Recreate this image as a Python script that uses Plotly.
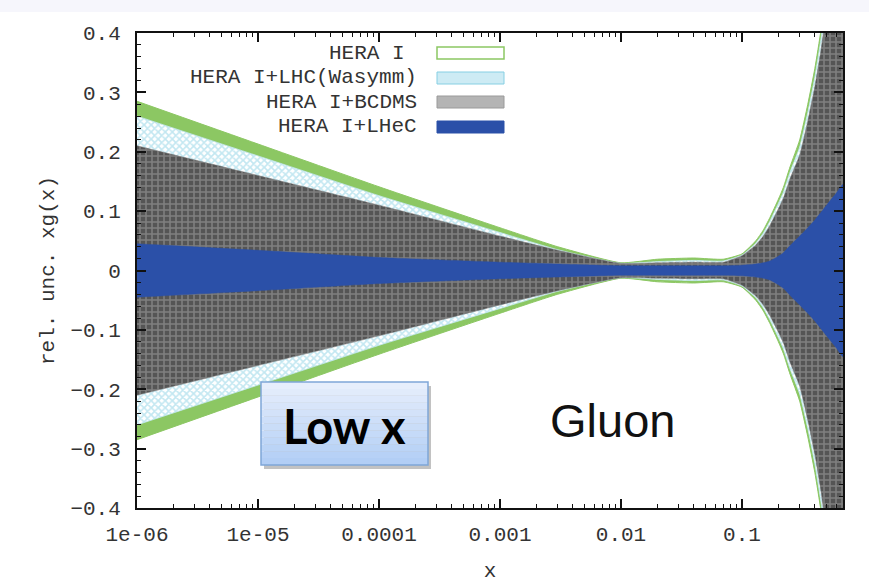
import plotly.graph_objects as go

# ---------------- data ----------------
x_pts = [1e-6, 1e-5, 1e-4, 1e-3, 3e-3, 0.01, 0.02, 0.04, 0.07, 0.1, 0.13,
         0.15, 0.17, 0.2, 0.22, 0.25, 0.3, 0.35, 0.4, 0.45, 0.5, 0.6, 0.684]

# half widths of the relative uncertainty bands (symmetric around 0)
hera1 = [0.285, 0.213, 0.141, 0.072, 0.040, 0.013, 0.019, 0.021, 0.019, 0.028, 0.050,
         0.068, 0.089, 0.120, 0.140, 0.175, 0.220, 0.280, 0.340, 0.405, 0.480, 0.600, 0.700]
hera1_lhc = [0.260, 0.193, 0.126, 0.064, 0.035, 0.012, 0.015, 0.017, 0.016, 0.026, 0.046,
             0.063, 0.083, 0.113, 0.132, 0.166, 0.208, 0.266, 0.325, 0.390, 0.460, 0.580, 0.680]
hera1_bcdms = [0.210, 0.160, 0.110, 0.058, 0.034, 0.012, 0.013, 0.014, 0.014, 0.025, 0.043,
               0.058, 0.076, 0.104, 0.122, 0.155, 0.195, 0.252, 0.310, 0.372, 0.440, 0.560, 0.660]
hera1_lhec = [0.045, 0.034, 0.022, 0.014, 0.011, 0.008, 0.008, 0.008, 0.008, 0.009, 0.011,
              0.013, 0.016, 0.024, 0.030, 0.042, 0.058, 0.072, 0.085, 0.098, 0.110, 0.130, 0.145]

series_names = ["HERA I", "HERA I+LHC(Wasymm)", "HERA I+BCDMS", "HERA I+LHeC"]

x_tickvals = [1e-6, 1e-5, 1e-4, 1e-3, 1e-2, 1e-1]
x_ticktext = ["1e-06", "1e-05", "0.0001", "0.001", "0.01", "0.1"]
x_minor = [m * 10.0 ** e for e in range(-6, 0) for m in range(2, 10)]
y_tickvals = [0.4, 0.3, 0.2, 0.1, 0, -0.1, -0.2, -0.3, -0.4]
y_ticktext = ["0.4", "0.3", "0.2", "0.1", "0", "\u22120.1", "\u22120.2", "\u22120.3", "\u22120.4"]

# ---------------- styles ----------------
GREEN = "#8cc763"
LBLUE = "#86cfe3"
BLUE = "#2b50a8"
MONO = "Liberation Mono, Courier New, monospace"
TXT = "#333333"


def band(half):
    xs = list(x_pts) + list(reversed(x_pts))
    ys = list(half) + [-v for v in reversed(half)]
    return xs, ys


fig = go.Figure()

xs, ys = band(hera1)
fig.add_trace(go.Scatter(x=xs, y=ys, fill="toself", mode="lines",
                         line=dict(color=GREEN, width=1, shape="spline", smoothing=0.5),
                         fillcolor=GREEN, name=series_names[0], showlegend=False))
xs, ys = band(hera1_lhc)
fig.add_trace(go.Scatter(x=xs, y=ys, fill="toself", mode="lines",
                         line=dict(color="#c4e9f3", width=0.8, shape="spline", smoothing=0.5),
                         fillpattern=dict(shape="x", fgcolor=LBLUE, bgcolor="white",
                                          size=5, solidity=0.55),
                         name=series_names[1], showlegend=False))
xs, ys = band(hera1_bcdms)
fig.add_trace(go.Scatter(x=xs, y=ys, fill="toself", mode="lines",
                         line=dict(color="#777777", width=0.5, shape="spline", smoothing=0.5),
                         fillpattern=dict(shape="+", fgcolor="#a9a9a9", bgcolor="#555555",
                                          size=6, solidity=0.45),
                         name=series_names[2], showlegend=False))
xs, ys = band(hera1_lhec)
fig.add_trace(go.Scatter(x=xs, y=ys, fill="toself", mode="lines",
                         line=dict(color=BLUE, width=0.5, shape="spline", smoothing=0.5),
                         fillcolor=BLUE, name=series_names[3], showlegend=False))

# ---------------- layout ----------------
W, H = 869, 588
L, R, T, B = 137, 26, 33, 80
PW, PH = W - L - R, H - T - B


def px(xp):
    return (xp - L) / PW


def py(yp):
    return (H - B - yp) / PH


shapes = []
annotations = []

# light strip at the very top of the page
shapes.append(dict(type="rect", xref="paper", yref="paper", x0=-L / PW, x1=(W - L) / PW,
                   y0=py(12), y1=py(0), fillcolor="#f6f6fc", line=dict(width=0), layer="below"))

# manual legend (text right-aligned, swatch on the right)
leg_rows = [53, 78, 102, 127]
leg_text_right = [407, 419, 419, 419]
sw_x0, sw_x1 = 437, 504
sw_styles = [
    dict(fillcolor="white", line=dict(color=GREEN, width=1.5)),
    dict(fillcolor="#cdebf4", line=dict(color=LBLUE, width=1)),
    dict(fillcolor="#b4b4b4", line=dict(color="#9a9a9a", width=1)),
    dict(fillcolor=BLUE, line=dict(color=BLUE, width=1)),
]
for name, yr, xr, st in zip(series_names, leg_rows, leg_text_right, sw_styles):
    annotations.append(dict(text=name, xref="paper", yref="paper", x=px(xr), y=py(yr),
                            xanchor="right", yanchor="middle", showarrow=False,
                            font=dict(family=MONO, size=21, color=TXT)))
    shapes.append(dict(type="rect", xref="paper", yref="paper",
                       x0=px(sw_x0), x1=px(sw_x1), y0=py(yr + 6), y1=py(yr - 6), **st))

# "Low x" box with shadow and vertical gradient
bx0, bx1, by0, by1 = 261, 428, 382, 465
shapes.append(dict(type="rect", xref="paper", yref="paper", x0=px(bx0 + 3), x1=px(bx1 + 3),
                   y0=py(by1 + 4), y1=py(by0 + 4), fillcolor="rgba(120,120,120,0.45)",
                   line=dict(width=0)))
n_strips = 12
top_rgb = (230, 238, 252)
bot_rgb = (178, 206, 245)
for i in range(n_strips):
    f = i / (n_strips - 1)
    c = tuple(int(round(top_rgb[k] + (bot_rgb[k] - top_rgb[k]) * f)) for k in range(3))
    ya = by0 + (by1 - by0) * i / n_strips
    yb = by0 + (by1 - by0) * (i + 1) / n_strips
    shapes.append(dict(type="rect", xref="paper", yref="paper", x0=px(bx0), x1=px(bx1),
                       y0=py(yb), y1=py(ya), fillcolor="rgb(%d,%d,%d)" % c,
                       line=dict(width=0)))
shapes.append(dict(type="rect", xref="paper", yref="paper", x0=px(bx0), x1=px(bx1),
                   y0=py(by1), y1=py(by0), fillcolor="rgba(0,0,0,0)",
                   line=dict(color="#7fa6d8", width=1.5)))
annotations.append(dict(text="<b>Low x</b>", xref="paper", yref="paper",
                        x=px(344), y=py(426), xanchor="center", yanchor="middle",
                        showarrow=False, font=dict(family="Lato, Open Sans, sans-serif",
                                                   size=47, color="#000000")))
annotations.append(dict(text="Gluon", xref="paper", yref="paper",
                        x=px(612), y=py(420), xanchor="center", yanchor="middle",
                        showarrow=False, font=dict(family="Liberation Sans, Arial, sans-serif",
                                                   size=47, color="#111111")))

fig.update_layout(
    width=W, height=H,
    margin=dict(l=L, r=R, t=T, b=B, autoexpand=False),
    paper_bgcolor="white", plot_bgcolor="white",
    showlegend=False,
    shapes=shapes, annotations=annotations,
    font=dict(family=MONO, size=21, color=TXT),
)
fig.update_xaxes(
    type="log", range=[-6, -0.165],
    tickvals=x_tickvals, ticktext=x_ticktext,
    ticks="inside", ticklen=9, tickwidth=1.5, tickcolor="#111",
    minor=dict(tickvals=x_minor, ticks="inside", ticklen=4, tickwidth=1, tickcolor="#111"),
    showline=True, linecolor="#111", linewidth=2, mirror="allticks",
    showgrid=False, zeroline=False,
    tickfont=dict(family=MONO, size=21, color=TXT),
    title=dict(text="x", font=dict(family=MONO, size=21, color=TXT), standoff=16),
    ticklabelstandoff=6,
)
fig.update_yaxes(
    range=[-0.4, 0.4],
    tickvals=y_tickvals, ticktext=y_ticktext,
    ticks="inside", ticklen=9, tickwidth=1.5, tickcolor="#111",
    minor=dict(dtick=0.02, ticks="inside", ticklen=4, tickwidth=1, tickcolor="#111"),
    showline=True, linecolor="#111", linewidth=2, mirror="allticks",
    showgrid=False, zeroline=False,
    tickfont=dict(family=MONO, size=21, color=TXT),
    title=dict(text="rel. unc. xg(x)", font=dict(family=MONO, size=21, color=TXT),
               standoff=10),
    ticklabelstandoff=10,
)

fig.write_html("out.html")
